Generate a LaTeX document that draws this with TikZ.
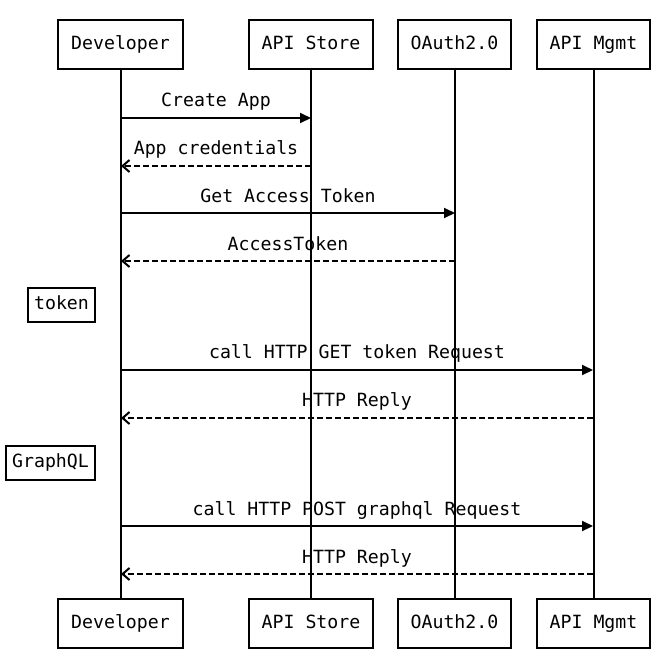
\documentclass[tikz,border=0pt]{standalone}
\usepackage{fontspec}
\setmainfont{DejaVu Sans Mono}
\usetikzlibrary{arrows.meta}
\begin{document}
\begin{tikzpicture}[x=1pt,y=-1pt,
  font=\fontsize{18.2}{21}\selectfont,
  every node/.append style={text height=1.08em,text depth=0em},
  actor/.style={draw=black,line width=2pt,fill=white,minimum height=49pt,inner sep=0pt},
  note/.style={draw=black,line width=2pt,fill=white,minimum height=34pt,inner sep=0pt},
  lifeline/.style={line width=2pt},
  callmsg/.style={line width=2pt,-{Triangle[length=11pt,width=10pt]}},
  replymsg/.style={line width=2pt,dash pattern=on 6pt off 3pt,-{Straight Barb[length=7pt,width=12pt,line width=2pt]}},
  lbl/.style={inner sep=0pt}]
\useasboundingbox (0,0) rectangle (668,670);
% actors
\node[actor,minimum width=125pt] (devT) at (120.5,44.5) {Developer};
\node[actor,minimum width=124pt] (stoT) at (311,44.5) {API Store};
\node[actor,minimum width=113pt] (oauT) at (454.5,44.5) {OAuth2.0};
\node[actor,minimum width=113pt] (mgmT) at (593.5,44.5) {API Mgmt};
\node[actor,minimum width=125pt] (devB) at (120.5,623.5) {Developer};
\node[actor,minimum width=124pt] (stoB) at (311,623.5) {API Store};
\node[actor,minimum width=113pt] (oauB) at (454.5,623.5) {OAuth2.0};
\node[actor,minimum width=113pt] (mgmB) at (593.5,623.5) {API Mgmt};
% lifelines
\draw[lifeline] (devT.south) -- (devB.north);
\draw[lifeline] (stoT.south) -- (stoB.north);
\draw[lifeline] (oauT.south) -- (oauB.north);
\draw[lifeline] (mgmT.south) -- (mgmB.north);
% message endpoints
\coordinate (d1) at (121,118); \coordinate (s1) at (311,118);
\coordinate (d2) at (121,166); \coordinate (s2) at (311,166);
\coordinate (d3) at (121,213); \coordinate (o3) at (455,213);
\coordinate (d4) at (121,261); \coordinate (o4) at (455,261);
\coordinate (d5) at (121,370); \coordinate (m5) at (593,370);
\coordinate (d6) at (121,418); \coordinate (m6) at (593,418);
\coordinate (d7) at (121,526); \coordinate (m7) at (593,526);
\coordinate (d8) at (121,574); \coordinate (m8) at (593,574);
% messages
\draw[callmsg] (d1) -- (s1);
\node[lbl] (l1) at (216,101) {Create App};
\draw[replymsg] (s2) -- (d2);
\node[lbl] (l2) at (216,149) {App credentials};
\draw[callmsg] (d3) -- (o3);
\node[lbl] (l3) at (288,197) {Get Access Token};
\draw[replymsg] (o4) -- (d4);
\node[lbl] (l4) at (288,245) {AccessToken};
\node[note,minimum width=67pt] (tok) at (61.5,304.5) {token};
\draw[callmsg] (d5) -- (m5);
\node[lbl] (l5) at (357,353) {call HTTP GET token Request};
\draw[replymsg] (m6) -- (d6);
\node[lbl] (l6) at (357,401) {HTTP Reply};
\node[note,minimum width=89pt] (gql) at (50.5,462.5) {GraphQL};
\draw[callmsg] (d7) -- (m7);
\node[lbl] (l7) at (357,510) {call HTTP POST graphql Request};
\draw[replymsg] (m8) -- (d8);
\node[lbl] (l8) at (357,558) {HTTP Reply};
\end{tikzpicture}
\end{document}
